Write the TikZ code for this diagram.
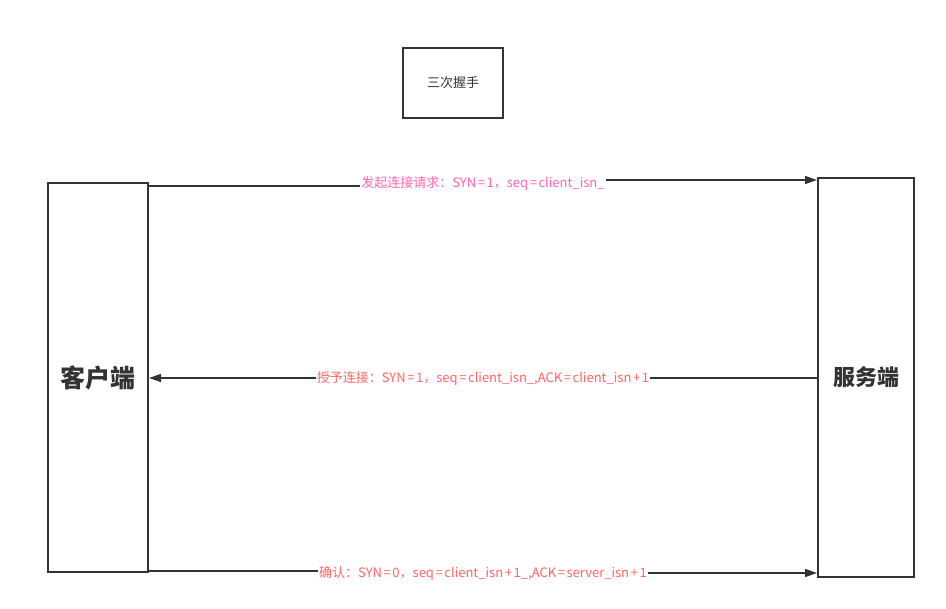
\documentclass[tikz,border=0pt]{standalone}
\usepackage{fontspec}
\setmainfont{Noto Sans CJK SC}
\usetikzlibrary{arrows.meta}
\definecolor{linec}{HTML}{333333}
\definecolor{pinkc}{HTML}{FF66B3}
\definecolor{redc}{HTML}{FF6666}
\newcommand{\eqs}{\hspace{1.6pt}=\hspace{1.6pt}}
\newcommand{\pls}{\hspace{1.6pt}+\hspace{1.6pt}}
\tikzset{
  box/.style={draw=linec, line width=1.5pt, fill=white, inner sep=0pt},
  conn/.style={draw=linec, line width=1.5pt},
  arr/.style={conn, -{Triangle[length=12pt,width=8pt]}},
  lbl/.style={font=\fontsize{13pt}{15pt}\selectfont, inner sep=1pt, fill=white},
}
\begin{document}
\begin{tikzpicture}[x=1pt,y=-1pt]
\useasboundingbox (0,0) rectangle (946,609);
\node[box, minimum width=100pt, minimum height=70pt, font=\fontsize{13pt}{15pt}\selectfont, text=linec] (title) at (453,83) {三次握手};
\node[box, minimum width=100pt, minimum height=389pt, font=\fontsize{25pt}{28pt}\selectfont\bfseries, text=linec] (client) at (98,377.5) {客户端};
\node[box, minimum width=96pt, minimum height=399pt, font=\fontsize{22pt}{25pt}\selectfont\bfseries, text=linec] (server) at (866,377.5) {服务端};
% arrow 1
\coordinate (a1s) at (148,186);
\coordinate (a1e) at (817,180);
\node[lbl, text=pinkc, anchor=base] (l1) at (483,188) {发起连接请求：SYN\eqs1，seq\eqs client\_isn\_};
\draw[conn] (a1s) -- (l1.west |- a1s);
\draw[arr] (l1.east |- a1e) -- (a1e);
% arrow 2
\coordinate (a2s) at (818,378);
\coordinate (a2e) at (149,378);
\node[lbl, text=redc, anchor=base] (l2) at (483,383) {授予连接：SYN\eqs1，seq\eqs client\_isn\_,ACK\eqs client\_isn\pls1};
\draw[arr] (a2s) -- (a2e);
\node[lbl, text=redc, anchor=base] at (l2.base) {授予连接：SYN\eqs1，seq\eqs client\_isn\_,ACK\eqs client\_isn\pls1};
% arrow 3
\coordinate (a3s) at (148,571);
\coordinate (a3e) at (817,573);
\node[lbl, text=redc, anchor=base] (l3) at (483,577) {确认：SYN\eqs0，seq\eqs client\_isn\pls1\_,ACK\eqs server\_isn\pls1};
\draw[conn] (a3s) -- (l3.west |- a3s);
\draw[arr] (l3.east |- a3e) -- (a3e);
\end{tikzpicture}
\end{document}
